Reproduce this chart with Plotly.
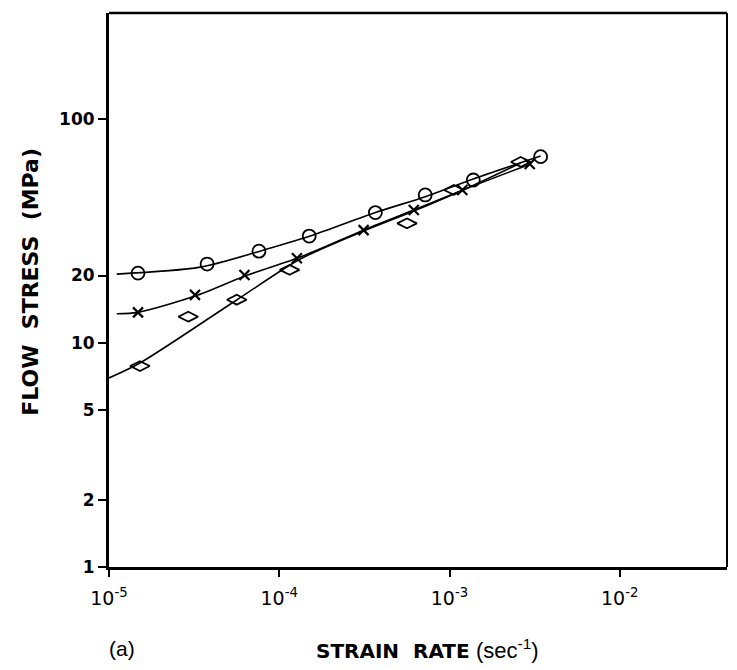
import plotly.graph_objects as go

# Measured points
circle_x = [1.48e-5, 3.77e-5, 7.6e-5, 1.5e-4, 3.67e-4, 7.2e-4, 1.38e-3, 3.43e-3]
circle_y = [20.5, 22.5, 25.7, 30.0, 38.2, 45.8, 53.4, 67.9]

cross_x = [1.48e-5, 3.2e-5, 6.25e-5, 1.27e-4, 3.13e-4, 6.17e-4, 1.19e-3, 2.96e-3]
cross_y = [13.7, 16.4, 20.1, 23.9, 31.9, 39.2, 48.2, 63.0]

diamond_x = [1.52e-5, 2.92e-5, 5.63e-5, 1.15e-4, 5.63e-4, 1.06e-3, 2.62e-3]
diamond_y = [7.89, 13.1, 15.6, 21.2, 34.2, 48.2, 64.3]

# Fitted curves
circle_fit_x = [1.11e-5, 3.43e-5, 7.7e-5, 1.52e-4, 3.67e-4, 7.2e-4, 1.38e-3, 3.43e-3]
circle_fit_y = [20.3, 21.8, 25.7, 30.0, 38.2, 45.0, 54.0, 68.3]

cross_fit_x = [1.11e-5, 1.48e-5, 3.2e-5, 6.3e-5, 1.33e-4, 3.13e-4, 6.17e-4, 1.2e-3, 2.99e-3]
cross_fit_y = [13.5, 13.7, 16.2, 19.9, 24.2, 31.9, 39.2, 48.2, 63.0]

diamond_fit_x = [1.0e-5, 1.52e-5, 5.65e-5, 1.33e-4, 3.13e-4, 6.17e-4, 1.2e-3, 2.62e-3]
diamond_fit_y = [6.98, 8.14, 15.6, 23.7, 31.6, 38.8, 48.2, 63.6]

y_ticks = [1, 2, 5, 10, 20, 100]
x_ticks = [1e-5, 1e-4, 1e-3, 1e-2]
x_ticktext = ["10<sup>-5</sup>", "10<sup>-4</sup>", "10<sup>-3</sup>", "10<sup>-2</sup>"]

FONT = "DejaVu Sans"
fig = go.Figure()

for fx, fy in [(circle_fit_x, circle_fit_y), (cross_fit_x, cross_fit_y), (diamond_fit_x, diamond_fit_y)]:
    fig.add_trace(go.Scatter(x=fx, y=fy, mode="lines", line=dict(color="black", width=1.6, shape="spline", smoothing=0.8),
                             showlegend=False, hoverinfo="skip"))

fig.add_trace(go.Scatter(x=circle_x, y=circle_y, mode="markers",
                         marker=dict(symbol="circle-open", size=13, color="black", line=dict(width=1.8)),
                         showlegend=False))
fig.add_trace(go.Scatter(x=cross_x, y=cross_y, mode="markers",
                         marker=dict(symbol="x-thin-open", size=10, color="black", line=dict(width=2.2)),
                         showlegend=False))
fig.add_trace(go.Scatter(x=diamond_x, y=diamond_y, mode="markers",
                         marker=dict(symbol="diamond-wide-open", size=14, color="black", line=dict(width=1.8)),
                         showlegend=False))

fig.update_layout(
    width=729, height=662,
    margin=dict(l=101, r=10, t=5, b=103),
    paper_bgcolor="white", plot_bgcolor="white",
    font=dict(family=FONT, color="black"),
    xaxis=dict(type="log", range=[-5, -1.37], showgrid=False, zeroline=False,
               showline=True, linecolor="black", linewidth=3,
               ticks="outside", ticklen=7, tickwidth=2, tickcolor="black",
               tickvals=x_ticks, ticktext=x_ticktext, ticklabelstandoff=5,
               tickfont=dict(family=FONT, size=19, color="black")),
    yaxis=dict(type="log", range=[0, 2.473], showgrid=False, zeroline=False,
               showline=True, linecolor="black", linewidth=3,
               ticks="outside", ticklen=8, tickwidth=2, tickcolor="black",
               tickvals=y_ticks, ticktext=[str(v) for v in y_ticks],
               tickfont=dict(family=FONT, size=17, color="black", weight="bold")),
    shapes=[
        dict(type="line", xref="paper", yref="paper", x0=0, x1=1, y0=1, y1=1,
             line=dict(color="black", width=2.5)),
        dict(type="line", xref="paper", yref="paper", x0=1, x1=1, y0=0, y1=1,
             line=dict(color="black", width=2)),
    ],
    annotations=[
        dict(text="FLOW  STRESS  (MPa)", xref="paper", yref="paper", x=-0.127, y=0.514,
             xanchor="center", yanchor="middle", textangle=-90, showarrow=False,
             font=dict(family=FONT, size=22, color="black", weight="bold")),
        dict(text="<b>STRAIN  RATE</b> <span style='font-family:Liberation Sans;font-size:22px'>(sec<sup>-1</sup>)</span>",
             xref="paper", yref="paper", x=0.516, y=-0.148,
             xanchor="center", yanchor="middle", showarrow=False,
             font=dict(family=FONT, size=20, color="black")),
        dict(text="(a)", xref="paper", yref="paper", x=0.021, y=-0.148,
             xanchor="center", yanchor="middle", showarrow=False,
             font=dict(family="Liberation Sans", size=21, color="black")),
    ],
)

fig.write_html("out.html")
